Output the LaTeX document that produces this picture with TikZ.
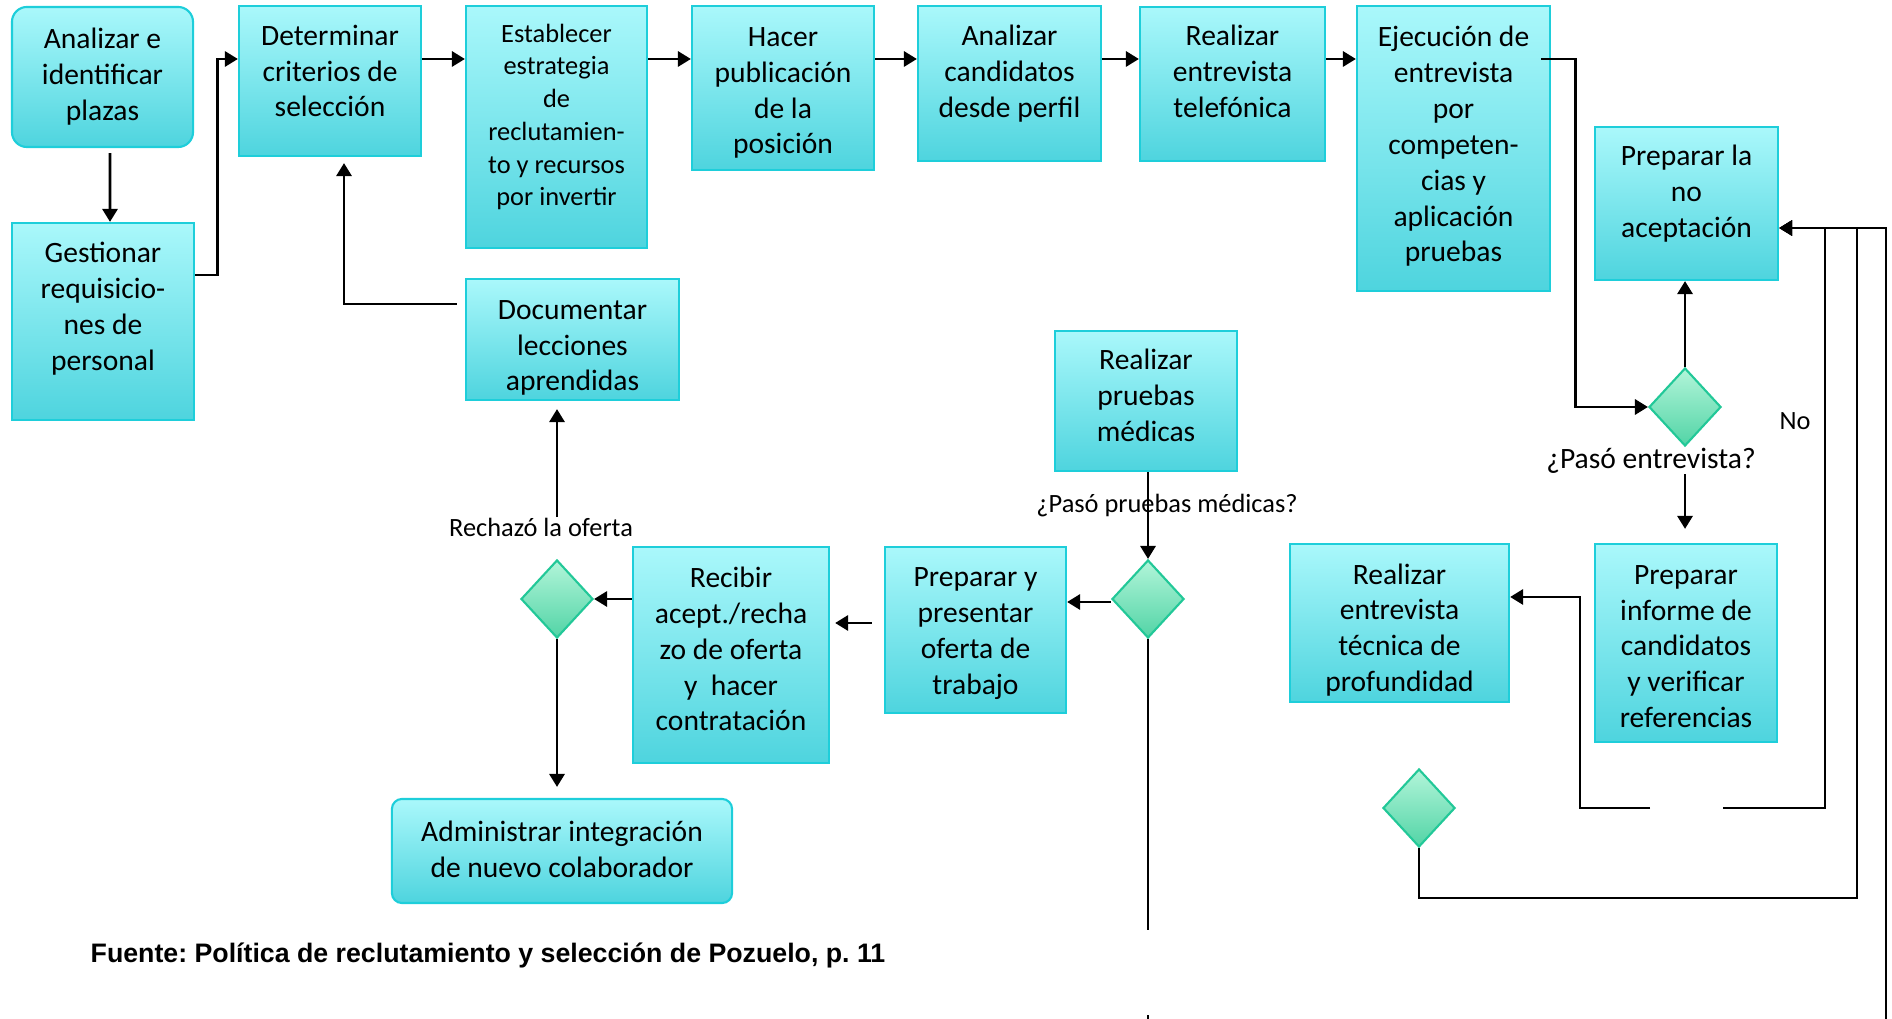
\documentclass[tikz,border=0pt]{standalone}
\usepackage{fontspec}
\setmainfont{Carlito}
\newfontfamily\arialfont{Liberation Sans}
\usetikzlibrary{arrows.meta, shapes.geometric}
\frenchspacing
\definecolor{boxtop}{RGB}{170,248,251}
\definecolor{boxbot}{RGB}{78,212,222}
\definecolor{boxline}{RGB}{30,206,218}
\definecolor{dectop}{RGB}{178,245,217}
\definecolor{decbot}{RGB}{82,212,166}
\definecolor{decline}{RGB}{34,200,152}
\tikzset{box/.style={draw=boxline, line width=0.6pt, top color=boxtop, bottom color=boxbot, inner sep=0pt},
  rbox/.style={box, rounded corners=0.15cm},
  boxtxt/.style={align=center, inner sep=0pt, font=\fontsize{8.4}{10.2}\selectfont},
  dec/.style={diamond, draw=decline, line width=0.6pt, top color=dectop, bottom color=decbot,
    minimum width=0.72cm, minimum height=0.78cm, inner sep=0pt},
  arr/.style={-{Triangle[length=3.7pt,width=4.3pt]}, line width=0.8pt},
  lbl/.style={inner sep=0pt, font=\fontsize{7.5}{9}\selectfont}}

\begin{document}
\begin{tikzpicture}[x=0.01cm, y=-0.01cm]
  \useasboundingbox (0,0) rectangle (1892,1019);
  %Top row of steps:
  \node[rbox, minimum width=1.81cm, minimum height=1.40cm,
    label={[boxtxt]center:Analizar e\\identificar\\plazas}] (plazas) at (102.5,77) {};
  \node[box, minimum width=1.82cm, minimum height=1.97cm,
    label={[boxtxt, yshift=0.13cm]center:Gestionar\\requisicio-\\nes de\\personal}] (requis) at (103,321.5) {};
  \node[box, minimum width=1.82cm, minimum height=1.50cm,
    label={[boxtxt, yshift=0.1cm]center:Determinar\\criterios de\\selección}] (crit) at (330,81) {};
  \node[box, minimum width=1.81cm, minimum height=2.42cm,
    label={[boxtxt, font=\fontsize{7.5}{9.3}\selectfont, yshift=0.1cm]center:Establecer\\estrategia\\de\\reclutamien-\\to y recursos\\por invertir}] (estrat) at (556.5,127) {};
  \node[box, minimum width=1.82cm, minimum height=1.64cm,
    label={[boxtxt, yshift=-0.05cm]center:Hacer\\publicación\\de la\\posición}] (public) at (783,88) {};
  \node[box, minimum width=1.83cm, minimum height=1.55cm,
    label={[boxtxt, yshift=0.1cm]center:Analizar\\candidatos\\desde perfil}] (candid) at (1009.5,83.5) {};
  \node[box, minimum width=1.85cm, minimum height=1.54cm,
    label={[boxtxt, yshift=0.13cm]center:Realizar\\entrevista\\telefónica}] (telef) at (1232.5,84) {};
  \node[box, minimum width=1.93cm, minimum height=2.85cm,
    label={[boxtxt, yshift=0.02cm]center:Ejecución de\\entrevista\\por\\competen-\\cias y\\aplicación\\pruebas}] (compet) at (1453.5,148.5) {};
  \node[box, minimum width=1.83cm, minimum height=1.53cm,
    label={[boxtxt, yshift=0.1cm]center:Preparar la\\no\\aceptación}] (noacept) at (1686.5,203.5) {};
  %Lower steps:
  \node[box, minimum width=2.13cm, minimum height=1.21cm,
    label={[boxtxt, yshift=-0.085cm]center:Documentar\\lecciones\\aprendidas}] (lecc) at (572.5,339.5) {};
  \node[box, minimum width=1.82cm, minimum height=1.40cm,
    label={[boxtxt, yshift=0.06cm]center:Realizar\\pruebas\\médicas}] (medic) at (1146,401) {};
  \node[box, minimum width=1.82cm, minimum height=1.98cm,
    label={[boxtxt, yshift=-0.036cm]center:Preparar\\informe de\\candidatos\\y verificar\\referencias}] (informe) at (1686,643) {};
  \node[box, minimum width=2.19cm, minimum height=1.58cm,
    label={[boxtxt, yshift=-0.07cm]center:Realizar\\entrevista\\técnica de\\profundidad}] (tecnica) at (1399.5,623) {};
  \node[box, minimum width=1.96cm, minimum height=2.16cm,
    label={[boxtxt, yshift=0.06cm]center:Recibir\\acept./recha\\zo de oferta\\y~~hacer\\contratación}] (contrat) at (731,655) {};
  \node[box, minimum width=1.81cm, minimum height=1.66cm,
    label={[boxtxt, yshift=-0.036cm]center:Preparar y\\presentar\\oferta de\\trabajo}] (oferta) at (975.5,630) {};
  \node[box, rounded corners=0.1cm, minimum width=3.40cm, minimum height=1.04cm,
    label={[boxtxt, yshift=0.02cm]center:Administrar integración\\de nuevo colaborador}] (integ) at (562,851) {};
  %Decisions:
  \node[dec] (ent) at (1685,407) {};
  \node[dec] (dec) at (1419,808) {};
  \node[dec] (ofd) at (557,599) {};
  \node[dec] (pru) at (1148,599) {};
  %Labels:
  \node[boxtxt] (lblent) at (1651,461) {¿Pasó entrevista?};
  \node[lbl] (lblno) at (1795,421) {No};
  \node[lbl] (lblpru) at (1167,506) {¿Pasó pruebas médicas?};
  \node[lbl] (lblrech) at (541,527) {Rechazó la oferta};
  \node[anchor=west, inner sep=0pt, font=\arialfont\bfseries\fontsize{7.6}{9}\selectfont] (fuente) at (90,955)
    {Fuente: Política de reclutamiento y selección de Pozuelo, p. 11};
  %Helper points:
  \coordinate (row) at (0,59);
  \coordinate (gapL) at (1650,808);
  \coordinate (gapR) at (1723,808);
  \coordinate (botR) at (1886,1019);
  \coordinate (stub) at (1148,1015);
  %Connectors:
  \draw[arr, shorten <=0.05cm] ([xshift=0.075cm]plazas.south) -- ([xshift=0.07cm]requis.north);
  \draw[arr] ([yshift=0.465cm]requis.east) -- ++(22,0) |- (crit.west |- row);
  \draw[arr] (crit.east |- row) -- (estrat.west |- row);
  \draw[arr] (estrat.east |- row) -- (public.west |- row);
  \draw[arr] (public.east |- row) -- (candid.west |- row);
  \draw[arr] (candid.east |- row) -- (telef.west |- row);
  \draw[arr] (telef.east |- row) -- (compet.west |- row);
  \draw[arr] ([xshift=-0.1cm]compet.east |- row) -- ++(34,0) |- (ent.west);
  \draw[arr] (ent.north) -- (ent.north |- noacept.south);
  \draw[arr, shorten >=0.14cm] (lblent.south -| ent.south) -- (ent.south |- informe.north);
  \draw[arr] (gapL) -- ++(-70,0) |- ([yshift=0.26cm]tecnica.east);
  \draw[arr] (gapR) -- ++(102,0) |- ([yshift=-0.245cm]noacept.east);
  \draw[arr] (dec.south) |- ++(438,50) |- ([yshift=-0.245cm]noacept.east);
  \draw[arr] (botR) |- ([yshift=-0.245cm]noacept.east);
  \draw[arr] (medic.south -| pru.north) -- (pru.north);
  \draw (pru.south) -- ++(0,291);
  \draw (stub) -- ++(0,4);
  \draw[arr] ([yshift=-0.03cm]pru.west) -- ([yshift=-0.03cm]pru.west -| oferta.east);
  \draw[arr, shorten <=0.12cm, shorten >=0.05cm] ([yshift=0.07cm]oferta.west) -- ([yshift=0.07cm]oferta.west -| contrat.east);
  \draw[arr] (contrat.west |- ofd.east) -- (ofd.east);
  \draw[arr, shorten >=0.11cm] (ofd.south) -- (ofd.south |- integ.north);
  \draw[arr, shorten >=0.08cm] (lblrech.north -| ofd.north) -- (ofd.north |- lecc.south);
  \draw[arr, shorten <=0.08cm, shorten >=0.06cm] ([yshift=0.355cm]lecc.west) -| ([xshift=0.14cm]crit.south);
\end{tikzpicture}
\end{document}
